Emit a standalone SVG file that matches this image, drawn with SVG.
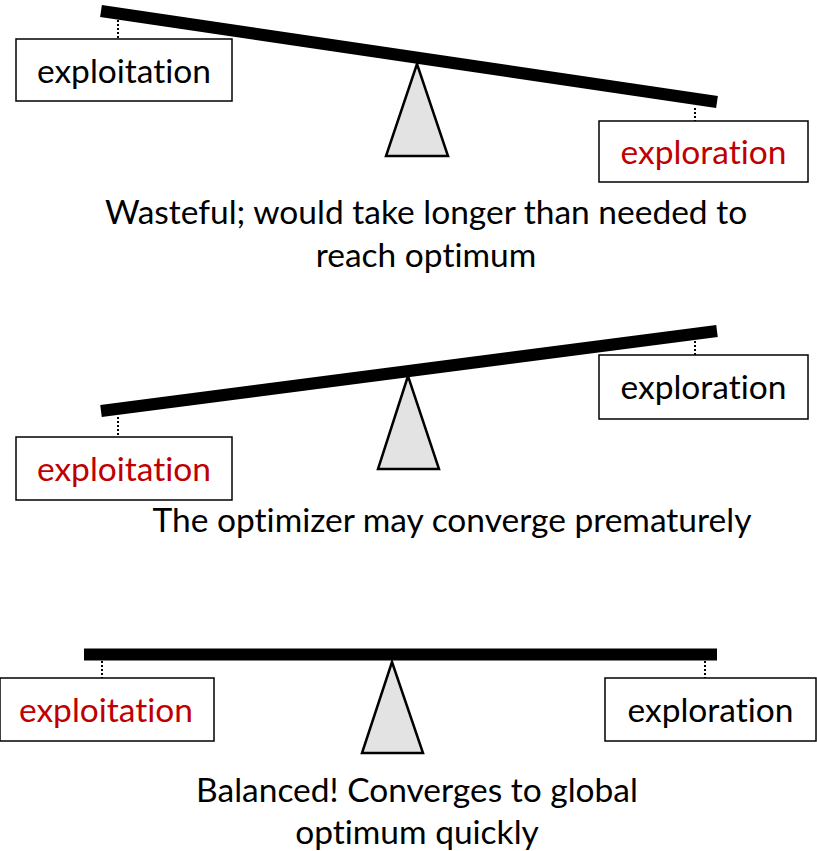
<svg xmlns="http://www.w3.org/2000/svg" width="817" height="851" viewBox="0 0 817 851">
  <style>
    .beam { stroke: #000; stroke-width: 12; fill: none; }
    .tie { stroke: #000; stroke-width: 2; stroke-dasharray: 2 2; fill: none; }
    .box { fill: #fff; stroke: #000; stroke-width: 1.5; }
    .pivot { fill: #e3e3e3; stroke: #000; stroke-width: 2.5; stroke-linejoin: miter; }
    text { font-family: Lato, "Open Sans", sans-serif; font-size: 33.5px; text-anchor: middle; fill: #000;
           font-variant-ligatures: none; font-feature-settings: "liga" 0, "dlig" 0; }
    .hot { fill: #c00000; }
  </style>
  <rect width="817" height="851" fill="#fff"/>

  <!-- Connectors: beams and dotted ties -->
  <g id="connectors">
    <line class="beam" x1="101" y1="11" x2="717" y2="102"/>
    <line class="tie" x1="118" y1="20" x2="118" y2="39"/>
    <line class="tie" x1="695" y1="108" x2="695" y2="121"/>

    <line class="beam" x1="101" y1="411" x2="717" y2="331"/>
    <line class="tie" x1="118" y1="417" x2="118" y2="437"/>
    <line class="tie" x1="695" y1="337" x2="695" y2="355"/>

    <line class="beam" x1="84" y1="654.5" x2="717" y2="654.5"/>
    <line class="tie" x1="102" y1="661" x2="102" y2="678"/>
    <line class="tie" x1="705" y1="661" x2="705" y2="678"/>
  </g>

  <!-- Scene 1: too much exploration -->
  <g id="pivot1"><polygon class="pivot" points="417,64 386,156 448,156"/></g>
  <g id="exploit1">
    <rect class="box" x="16" y="39" width="216" height="62"/>
    <text x="124" y="83">exploitation</text>
  </g>
  <g id="explore1">
    <rect class="box" x="599" y="121" width="209" height="61"/>
    <text class="hot" x="703.5" y="164">exploration</text>
  </g>
  <g id="caption1">
    <text x="426" y="224">Wasteful; would take longer than needed to</text>
    <text x="426" y="267">reach optimum</text>
  </g>

  <!-- Scene 2: too much exploitation -->
  <g id="pivot2"><polygon class="pivot" points="408,376 378,469 439,469"/></g>
  <g id="exploit2">
    <rect class="box" x="16" y="437" width="216" height="63"/>
    <text class="hot" x="124" y="481">exploitation</text>
  </g>
  <g id="explore2">
    <rect class="box" x="599" y="355" width="209" height="64"/>
    <text x="703.5" y="399">exploration</text>
  </g>
  <g id="caption2">
    <text x="452" y="532">The optimizer may converge prematurely</text>
  </g>

  <!-- Scene 3: balanced -->
  <g id="pivot3"><polygon class="pivot" points="392,662 362,753 423,753"/></g>
  <g id="exploit3">
    <rect class="box" x="0" y="678" width="214" height="63"/>
    <text class="hot" x="106" y="722">exploitation</text>
  </g>
  <g id="explore3">
    <rect class="box" x="605" y="678" width="211" height="63"/>
    <text x="710.5" y="722">exploration</text>
  </g>
  <g id="caption3">
    <text x="417" y="802">Balanced! Converges to global</text>
    <text x="417" y="844">optimum quickly</text>
  </g>
</svg>
